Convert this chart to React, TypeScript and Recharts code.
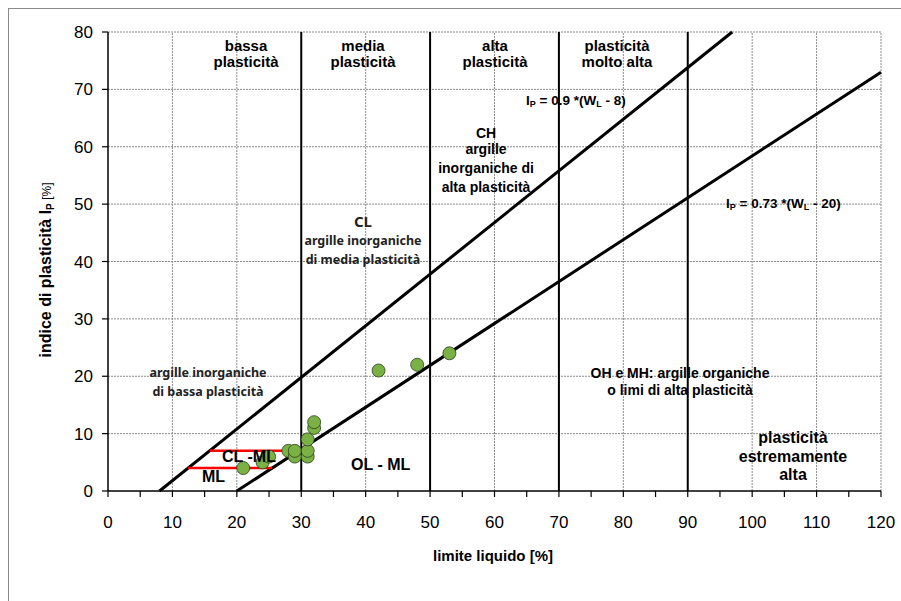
import React from "react";
import { ScatterChart, Scatter, XAxis, YAxis, ReferenceLine } from "recharts";

/* ── data ── */
const xTicks = [0, 5, 10, 15, 20, 25, 30, 35, 40, 45, 50, 55, 60, 65, 70, 75, 80, 85, 90, 95, 100, 105, 110, 115, 120];
const yTicks = [0, 10, 20, 30, 40, 50, 60, 70, 80];
const xGrid = [10, 20, 40, 60, 80, 100, 110, 120];
const yGrid = [10, 20, 30, 40, 50, 60, 70, 80];
const plasticityBounds = [30, 50, 70, 90];

// U-line Ip = 0.9*(WL-8) and A-line Ip = 0.73*(WL-20), endpoints
const uLine = [{ x: 8, y: 0 }, { x: 96.9, y: 80 }];
const aLine = [{ x: 20, y: 0 }, { x: 120, y: 73 }];
// CL-ML band limits (red)
const bandTop = [{ x: 15.8, y: 7 }, { x: 29.6, y: 7 }];
const bandBottom = [{ x: 12.4, y: 4 }, { x: 25.5, y: 4 }];

const samplesWL = [21, 24, 25, 28, 29, 29, 31, 31, 31, 32, 32, 42, 48, 53];
const samplesIP = [4, 5, 6, 7, 6, 7, 6, 7, 9, 11, 12, 21, 22, 24];
const samples = samplesWL.map((x, i) => ({ x, y: samplesIP[i] }));

const W = 901;
const H = 601;
const FONT = "'Liberation Sans', Arial, sans-serif";
const CALIBRI = "'Noto Sans', 'DejaVu Sans', sans-serif";

const Dot = (props: any) => {
    const { cx, cy } = props;
    if (cx == null || cy == null) return null;
    return <circle cx={cx} cy={cy} r={6.5} fill="#79b145" stroke="#2f3d1f" strokeWidth={0.8} />;
};

/* ── annotations ── */
function Notes() {
    const b = { fontFamily: FONT, fontWeight: 700, fill: "#000" } as const;
    const c = { fontFamily: CALIBRI, fontWeight: 700, fill: "#222" } as const;
    return (
        <svg width={W} height={H} style={{ position: "absolute", left: 0, top: 0, pointerEvents: "none" }}>
            <g {...b} fontSize={15} textAnchor="middle">
                <text x={246} y={51}>bassa</text>
                <text x={246} y={67}>plasticità</text>
                <text x={363} y={51}>media</text>
                <text x={363} y={67}>plasticità</text>
                <text x={495} y={51}>alta</text>
                <text x={495} y={67}>plasticità</text>
                <text x={617} y={51}>plasticità</text>
                <text x={617} y={67}>molto alta</text>
            </g>
            <g {...b} fontSize={13.5}>
                <text x={526} y={105}>
                    I<tspan fontSize={9} dy={2}>P</tspan>
                    <tspan dy={-2}> = 0.9 *(W</tspan>
                    <tspan fontSize={9} dy={2}>L</tspan>
                    <tspan dy={-2}> - 8)</tspan>
                </text>
                <text x={726} y={208}>
                    I<tspan fontSize={9} dy={2}>P</tspan>
                    <tspan dy={-2}> = 0.73 *(W</tspan>
                    <tspan fontSize={9} dy={2}>L</tspan>
                    <tspan dy={-2}> - 20)</tspan>
                </text>
            </g>
            <g {...b} fontSize={14} textAnchor="middle">
                <text x={486} y={138}>CH</text>
                <text x={486} y={154}>argille</text>
                <text x={486} y={173}>inorganiche di</text>
                <text x={486} y={192}>alta plasticità</text>
            </g>
            <g {...c} textAnchor="middle">
                <text x={363} y={227} fontSize={15}>CL</text>
                <text x={363} y={245} fontSize={12.5}>argille inorganiche</text>
                <text x={363} y={264} fontSize={12.5}>di media plasticità</text>
                <text x={208} y={377} fontSize={12.5}>argille inorganiche</text>
                <text x={208} y={396} fontSize={12.5}>di bassa plasticità</text>
            </g>
            <g {...b} fontSize={16}>
                <text x={222} y={462}>CL -ML</text>
                <text x={202} y={482}>ML</text>
                <text x={351} y={470}>OL - ML</text>
            </g>
            <g {...b} fontSize={14} textAnchor="middle">
                <text x={680} y={378}>OH e MH: argille organiche</text>
                <text x={680} y={395}>o limi di alta plasticità</text>
            </g>
            <g {...b} fontSize={16} textAnchor="middle">
                <text x={793} y={443}>plasticità</text>
                <text x={793} y={462}>estremamente</text>
                <text x={793} y={480}>alta</text>
            </g>
            {/* axis titles */}
            <text x={493} y={561} {...b} fontSize={15} textAnchor="middle">limite liquido [%]</text>
            <text transform="translate(51,270) rotate(-90)" {...b} fontSize={16} textAnchor="middle">
                indice di plasticità I<tspan fontSize={10} dy={3}>P</tspan>
                <tspan dy={-3} fontWeight={400} fontSize={12}>  [%]</tspan>
            </text>
        </svg>
    );
}

export default function App() {
    return (
        <div style={{ position: "relative", width: W, height: H, background: "#fff", overflow: "hidden" }}>
            <style>{`body{margin:0;overflow:hidden}`}</style>
            {/* outer frame */}
            <div style={{ position: "absolute", left: 8, top: 8, width: 920, height: 620, border: "1px solid #8a8a8a" }} />
            <div style={{ position: "absolute", left: 0, top: 0 }}>
                <ScatterChart width={W} height={H} margin={{ top: 32, right: 20, left: 48, bottom: 70 }}>
                    <XAxis
                        type="number"
                        dataKey="x"
                        domain={[0, 120]}
                        ticks={xTicks}
                        interval={0}
                        height={40}
                        tickSize={6}
                        tickMargin={19}
                        tickFormatter={(v: number) => (v % 10 === 0 ? String(v) : "")}
                        axisLine={{ stroke: "#000", strokeWidth: 1.5 }}
                        tickLine={{ stroke: "#000", strokeWidth: 1.2 }}
                        tick={{ fill: "#000", fontSize: 17, fontFamily: FONT }}
                    />
                    <YAxis
                        type="number"
                        dataKey="y"
                        domain={[0, 80]}
                        ticks={yTicks}
                        interval={0}
                        width={60}
                        tickSize={6}
                        tickMargin={9}
                        axisLine={{ stroke: "#000", strokeWidth: 1.5 }}
                        tickLine={{ stroke: "#000", strokeWidth: 1.2 }}
                        tick={{ fill: "#000", fontSize: 17, fontFamily: FONT }}
                    />
                    {xGrid.map((v) => (
                        <ReferenceLine key={"gx" + v} x={v} stroke="#8c8c8c" strokeWidth={1} strokeDasharray="2 1" />
                    ))}
                    {yGrid.map((v) => (
                        <ReferenceLine key={"gy" + v} y={v} stroke="#8c8c8c" strokeWidth={1} strokeDasharray="2 1" />
                    ))}
                    {plasticityBounds.map((v) => (
                        <ReferenceLine key={"b" + v} x={v} stroke="#000" strokeWidth={2} />
                    ))}
                    <ReferenceLine segment={uLine} stroke="#000" strokeWidth={3} />
                    <ReferenceLine segment={aLine} stroke="#000" strokeWidth={3} />
                    <ReferenceLine segment={bandTop} stroke="#ff0000" strokeWidth={2.5} />
                    <ReferenceLine segment={bandBottom} stroke="#ff0000" strokeWidth={2.5} />
                    <Scatter data={samples} shape={Dot} isAnimationActive={false} />
                </ScatterChart>
            </div>
            <Notes />
        </div>
    );
}
